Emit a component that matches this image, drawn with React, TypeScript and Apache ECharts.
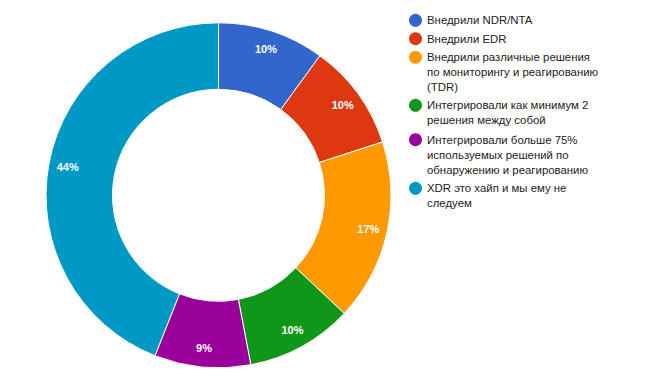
import React, { useEffect, useRef } from "react";
import * as echarts from "echarts";

const categories = [
  "Внедрили NDR/NTA",
  "Внедрили EDR",
  "Внедрили различные решения по мониторингу и реагированию (TDR)",
  "Интегрировали как минимум 2 решения между собой",
  "Интегрировали больше 75% используемых решений по обнаружению и реагированию",
  "XDR это хайп и мы ему не следуем",
];
const values = [10, 10, 17, 10, 9, 44];
const colors = ["#3366cc", "#dc3912", "#ff9900", "#109618", "#990099", "#0099c6"];
const legendLines = [
  ["Внедрили NDR/NTA"],
  ["Внедрили EDR"],
  ["Внедрили различные решения", "по мониторингу и реагированию", "(TDR)"],
  ["Интегрировали как минимум 2", "решения между собой"],
  ["Интегрировали больше 75%", "используемых решений по", "обнаружению и реагированию"],
  ["XDR это хайп и мы ему не", "следуем"],
];
const legendFirstLineY = [20.3, 38.7, 57.3, 105.3, 139.7, 188.3];

const FONT = "'Liberation Sans', Arial, sans-serif";
const LH = 15;
const FS = 11.4;
const ICON = 13;

export default function App() {
  const ref = useRef<HTMLDivElement>(null);
  useEffect(() => {
    document.body.style.margin = "0";
    const chart = echarts.init(ref.current!, null, { renderer: "svg" });
    const data = categories.map((name, i) => ({ name, value: values[i] }));
    const legends = categories.map((name, i) => {
      const n = legendLines[i].length;
      const H = (2 * n - 1) * LH;
      return {
        orient: "vertical",
        left: 409,
        top: legendFirstLineY[i] - H / 2,
        padding: 0,
        itemWidth: ICON,
        itemHeight: ICON,
        icon: "circle",
        selectedMode: false,
        itemStyle: { borderWidth: 0 },
        data: [name],
        formatter: (nm: string) => `{t|${legendLines[categories.indexOf(nm)].join("\n")}}`,
        textStyle: {
          color: "#222222",
          fontSize: FS,
          fontFamily: FONT,
          lineHeight: LH,
          padding: [(n - 1) * LH, 0, 0, 0],
          rich: {
            t: {
              color: "#222222",
              fontSize: FS,
              fontFamily: FONT,
              lineHeight: LH,
            },
          },
        },
      };
    });
    chart.setOption({
      animation: false,
      color: colors,
      legend: legends,
      series: [
        {
          type: "pie",
          center: [218.5, 195.3],
          radius: [106, 172.5],
          startAngle: 90,
          clockwise: true,
          avoidLabelOverlap: false,
          label: { show: false },
          labelLine: { show: false },
          itemStyle: { borderColor: "#ffffff", borderWidth: 1 },
          emphasis: { disabled: true },
          data,
        },
        {
          type: "pie",
          center: [218.5, 195.3],
          radius: [129, 172],
          startAngle: 90,
          clockwise: true,
          silent: true,
          avoidLabelOverlap: false,
          itemStyle: { color: "rgba(0,0,0,0)", borderWidth: 0 },
          label: {
            show: true,
            position: "inside",
            color: "#ffffff",
            fontSize: 11,
            fontWeight: "bold",
            fontFamily: FONT,
            formatter: (p: any) => `${Math.round(p.percent)}%`,
          },
          labelLine: { show: false },
          emphasis: { disabled: true },
          data,
        },
      ],
    });
    return () => chart.dispose();
  }, []);
  return (
    <div
      ref={ref}
      style={{ position: "absolute", left: 0, top: 0, width: 650, height: 390 }}
    />
  );
}
